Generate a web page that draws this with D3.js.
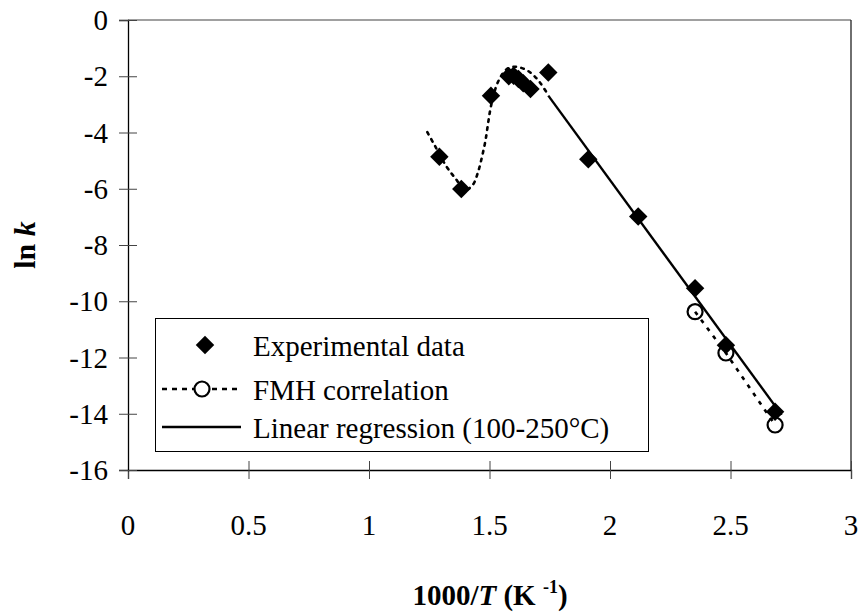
<!DOCTYPE html>
<html>
<head>
<meta charset="utf-8">
<script src="https://cdn.jsdelivr.net/npm/d3@7/dist/d3.min.js"></script>
<style>
  body { margin: 0; background: #fff; }
  svg { display: block; font-family: "Liberation Serif", "Times New Roman", serif; }
</style>
</head>
<body>
<svg id="chart"></svg>
<script>
// experimental points (1000/T, ln k)
const expX = [1.292, 1.383, 1.506, 1.58, 1.60, 1.62, 1.64, 1.67, 1.744, 1.910, 2.117, 2.353, 2.481, 2.685];
const expY = [-4.86, -6.01, -2.69, -2.0, -1.98, -2.1, -2.25, -2.45, -1.87, -4.95, -6.99, -9.54, -11.56, -13.93];

// FMH correlation, smooth part at high temperature (no markers)
const fmhCurveX = [1.242, 1.274, 1.320, 1.361, 1.398, 1.430, 1.454, 1.470, 1.483, 1.493, 1.503, 1.516, 1.537, 1.571, 1.606, 1.638, 1.665, 1.689, 1.710, 1.744];
const fmhCurveY = [-3.99, -4.48, -5.19, -5.66, -6.04, -5.87, -5.36, -4.82, -4.30, -3.74, -3.20, -2.70, -2.17, -1.75, -1.66, -1.72, -1.84, -2.02, -2.23, -2.67];

// FMH correlation, low temperature points (open circles)
const fmhX = [2.353, 2.481, 2.685];
const fmhY = [-10.37, -11.84, -14.4];

// linear regression 100-250 C
const regX = [1.744, 2.712];
const regY = [-2.69, -14.04];

const xTicks = [0, 0.5, 1, 1.5, 2, 2.5, 3];
const yTicks = [0, -2, -4, -6, -8, -10, -12, -14, -16];
const legendLabels = ["Experimental data", "FMH correlation", "Linear regression (100-250°C)"];

const width = 860, height = 614;
const margin = { top: 20, right: 9, bottom: 144, left: 128 };

const svg = d3.select("#chart")
    .attr("width", width)
    .attr("height", height);

const x = d3.scaleLinear().domain([0, 3]).range([margin.left, width - margin.right]);
const y = d3.scaleLinear().domain([-16, 0]).range([height - margin.bottom, margin.top]);

// plot area frame (top + right)
svg.append("line")
    .attr("x1", x(0)).attr("x2", x(3)).attr("y1", y(0)).attr("y2", y(0))
    .attr("stroke", "#808080").attr("stroke-width", 1.3);
svg.append("line")
    .attr("x1", x(3)).attr("x2", x(3)).attr("y1", y(0)).attr("y2", y(-16))
    .attr("stroke", "#222").attr("stroke-width", 1.3);

// axes with cross ticks
const xAxis = svg.append("g")
    .attr("transform", `translate(0,${y(-16)})`)
    .call(d3.axisBottom(x).tickValues(xTicks).tickSize(9).tickFormat(""));
xAxis.selectAll(".tick line").attr("y1", -9).attr("stroke", "#444");
xAxis.select(".domain").attr("stroke", "#000").attr("stroke-width", 1.3);

const yAxis = svg.append("g")
    .attr("transform", `translate(${x(0)},0)`)
    .call(d3.axisLeft(y).tickValues(yTicks).tickSize(9).tickFormat(""));
yAxis.selectAll(".tick line").attr("x1", 9).attr("stroke", "#444");
yAxis.select(".domain").attr("stroke", "#000").attr("stroke-width", 1.3);

// tick labels
svg.append("g").selectAll("text")
    .data(xTicks)
    .join("text")
    .attr("x", d => x(d))
    .attr("y", 535)
    .attr("text-anchor", "middle")
    .attr("font-size", 29)
    .text(d => d);

svg.append("g").selectAll("text")
    .data(yTicks)
    .join("text")
    .attr("x", 108)
    .attr("y", d => y(d) + 10)
    .attr("text-anchor", "end")
    .attr("font-size", 29)
    .text(d => d);

// axis titles
const xt = svg.append("text")
    .attr("x", 490).attr("y", 605)
    .attr("text-anchor", "middle")
    .attr("font-size", 29)
    .attr("font-weight", "bold");
xt.append("tspan").text("1000/");
xt.append("tspan").attr("font-style", "italic").text("T");
xt.append("tspan").text(" (K ");
xt.append("tspan").attr("font-size", 18).attr("dy", -12).text("-1");
xt.append("tspan").attr("dy", 12).text(")");

const yt = svg.append("text")
    .attr("transform", `translate(35,${y(-8)}) rotate(-90)`)
    .attr("text-anchor", "middle")
    .attr("font-size", 30)
    .attr("font-weight", "bold");
yt.append("tspan").text("ln ");
yt.append("tspan").attr("font-style", "italic").text("k");

// series
const dotted = { width: 2.6, dash: "2.6,5.4" };

const line = d3.line()
    .x(d => x(d[0]))
    .y(d => y(d[1]));

svg.append("path")
    .datum(d3.zip(fmhCurveX, fmhCurveY))
    .attr("d", line.curve(d3.curveCatmullRom.alpha(0.5)))
    .attr("fill", "none")
    .attr("stroke", "#000")
    .attr("stroke-width", dotted.width)
    .attr("stroke-dasharray", dotted.dash)
    .attr("stroke-linecap", "round");

svg.append("path")
    .datum(d3.zip(fmhX, fmhY))
    .attr("d", line.curve(d3.curveLinear))
    .attr("fill", "none")
    .attr("stroke", "#000")
    .attr("stroke-width", dotted.width)
    .attr("stroke-dasharray", "4,6");

svg.append("path")
    .datum(d3.zip(regX, regY))
    .attr("d", line.curve(d3.curveLinear))
    .attr("fill", "none")
    .attr("stroke", "#000")
    .attr("stroke-width", 2.4);

svg.append("g").selectAll("circle")
    .data(d3.zip(fmhX, fmhY))
    .join("circle")
    .attr("cx", d => x(d[0]))
    .attr("cy", d => y(d[1]))
    .attr("r", 7.5)
    .attr("fill", "none")
    .attr("stroke", "#000")
    .attr("stroke-width", 2.2);

const diamond = d3.symbol().type(d3.symbolSquare).size(170);
svg.append("g").selectAll("path")
    .data(d3.zip(expX, expY))
    .join("path")
    .attr("d", diamond)
    .attr("transform", d => `translate(${x(d[0])},${y(d[1])}) rotate(45)`)
    .attr("fill", "#000");

// legend
const legend = svg.append("g");
legend.append("rect")
    .attr("x", 155.5).attr("y", 318.5)
    .attr("width", 493).attr("height", 133)
    .attr("fill", "#fff")
    .attr("stroke", "#000").attr("stroke-width", 1);

const rowY = [345, 389, 427];
legend.append("path")
    .attr("d", diamond)
    .attr("transform", `translate(205,${rowY[0]}) rotate(45)`)
    .attr("fill", "#000");
legend.append("line")
    .attr("x1", 162).attr("x2", 241).attr("y1", rowY[1]).attr("y2", rowY[1])
    .attr("stroke", "#000").attr("stroke-width", dotted.width)
    .attr("stroke-dasharray", "5,5");
legend.append("circle")
    .attr("cx", 202).attr("cy", rowY[1]).attr("r", 7.5)
    .attr("fill", "#fff").attr("stroke", "#000").attr("stroke-width", 2.2);
legend.append("line")
    .attr("x1", 162).attr("x2", 241).attr("y1", rowY[2]).attr("y2", rowY[2])
    .attr("stroke", "#000").attr("stroke-width", 2.4);

legend.selectAll("text.lab")
    .data(legendLabels)
    .join("text")
    .attr("class", "lab")
    .attr("x", 253)
    .attr("y", (d, i) => rowY[i] + 11)
    .attr("font-size", 29)
    .text(d => d);
</script>
</body>
</html>
